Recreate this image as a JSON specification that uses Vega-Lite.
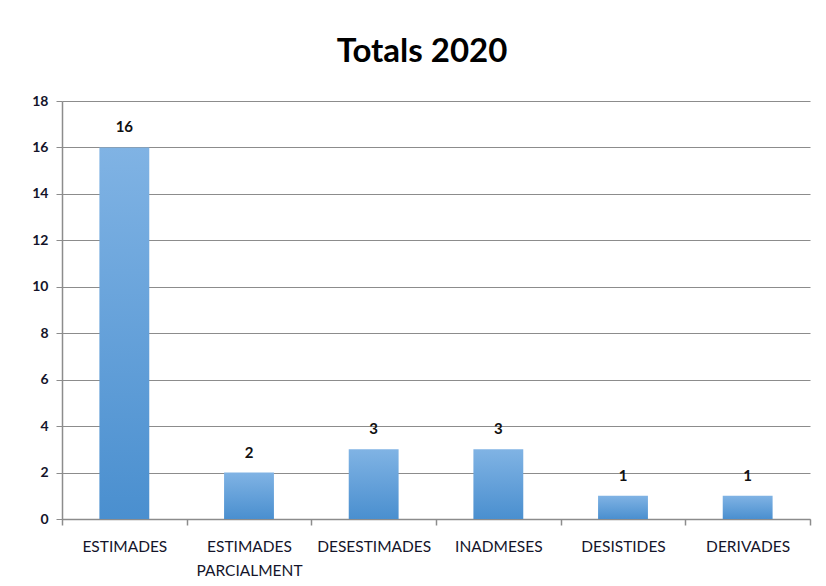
{
  "$schema": "https://vega.github.io/schema/vega-lite/v6.json",
  "width": 748,
  "height": 418,
  "autosize": {"type": "none"},
  "padding": {"left": 62, "top": 101, "right": 16, "bottom": 67},
  "background": "white",
  "title": {
    "text": "Totals 2020",
    "fontSize": 33,
    "font": "Lato",
    "fontWeight": "bold",
    "color": "#000000",
    "anchor": "middle",
    "frame": "group",
    "dx": -14,
    "offset": 25
  },
  "data": {
    "values": [
      {"categoria": "ESTIMADES", "total": 16},
      {"categoria": "ESTIMADES PARCIALMENT", "total": 2},
      {"categoria": "DESESTIMADES", "total": 3},
      {"categoria": "INADMESES", "total": 3},
      {"categoria": "DESISTIDES", "total": 1},
      {"categoria": "DERIVADES", "total": 1}
    ]
  },
  "encoding": {
    "x": {
      "field": "categoria",
      "type": "nominal",
      "sort": null,
      "scale": {"paddingInner": 0, "paddingOuter": 0},
      "axis": {
        "title": null,
        "labelAngle": 0,
        "labelFont": "Lato",
        "labelFontSize": 15.5,
        "labelColor": "#14142a",
        "labelExpr": "split(datum.label, ' ')",
        "labelLineHeight": 24,
        "labelBaseline": "top",
        "labelPadding": 14,
        "ticks": true,
        "tickBand": "extent",
        "tickSize": 6,
        "tickWidth": 1.5,
        "tickColor": "#8c8c8c",
        "domainColor": "#8c8c8c",
        "domainWidth": 1.5,
        "grid": false
      }
    },
    "y": {
      "field": "total",
      "type": "quantitative",
      "scale": {"domain": [0, 18]},
      "axis": {
        "title": null,
        "values": [0, 2, 4, 6, 8, 10, 12, 14, 16, 18],
        "labelFont": "Lato",
        "labelFontSize": 14,
        "labelFontWeight": "bold",
        "labelColor": "#14142a",
        "labelPadding": 8,
        "tickSize": 6,
        "tickColor": "#8c8c8c",
        "domainColor": "#8c8c8c",
        "domainWidth": 1.5,
        "grid": true,
        "gridColor": "#8c8c8c",
        "gridWidth": 1.2
      }
    }
  },
  "layer": [
    {
      "mark": {
        "type": "bar",
        "width": {"band": 0.4},
        "fill": {
          "gradient": "linear",
          "x1": 0, "y1": 0, "x2": 0, "y2": 1,
          "stops": [
            {"offset": 0, "color": "#80b3e4"},
            {"offset": 1, "color": "#4a8fcf"}
          ]
        }
      }
    },
    {
      "mark": {
        "type": "text",
        "baseline": "bottom",
        "dy": -12,
        "font": "Lato",
        "fontSize": 15,
        "fontWeight": "bold",
        "color": "#111111"
      },
      "encoding": {"text": {"field": "total", "type": "quantitative"}}
    }
  ],
  "config": {"view": {"stroke": null}}
}
